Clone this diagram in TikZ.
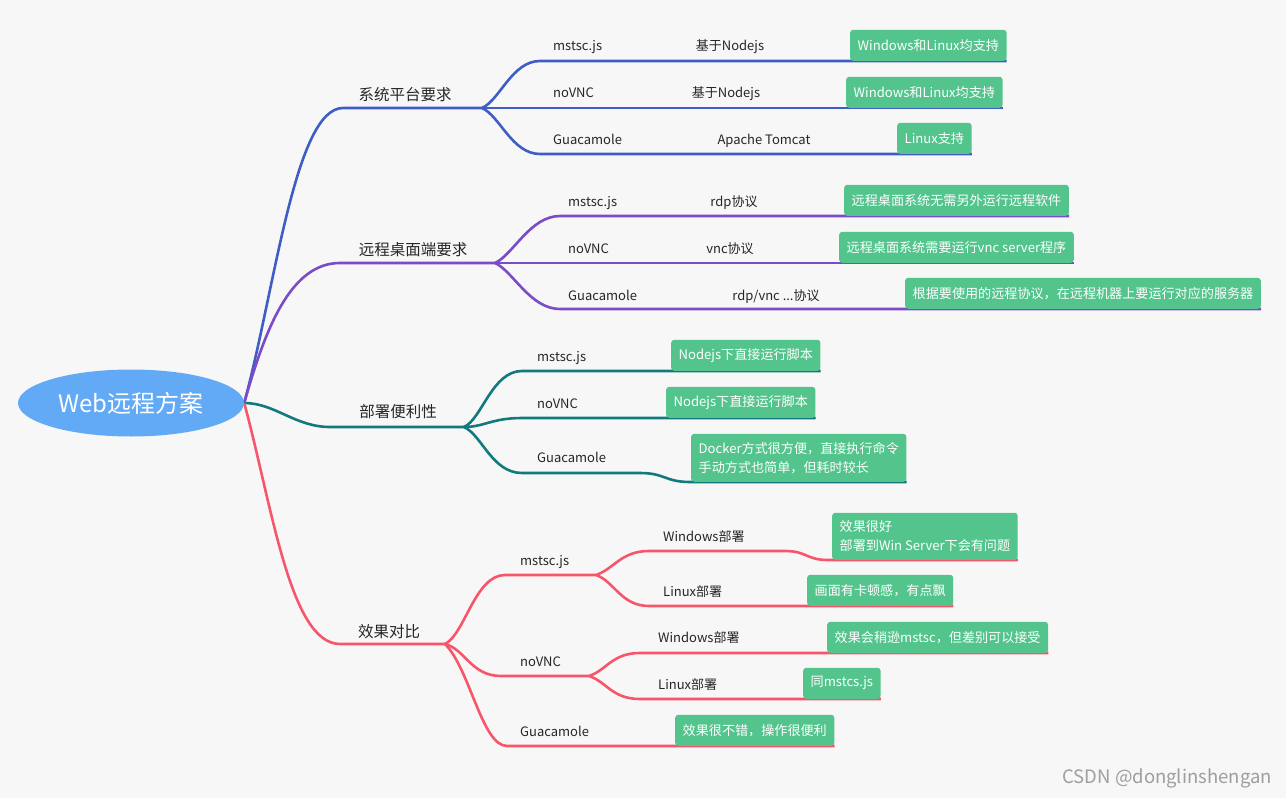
\documentclass[tikz,border=0pt]{standalone}
\usepackage{fontspec}
\setmainfont{Noto Sans CJK SC}
\usetikzlibrary{shapes.geometric}
\definecolor{bggray}{HTML}{F7F7F7}
\definecolor{rootblue}{HTML}{62AAF6}
\definecolor{bblue}{HTML}{3F5EC5}
\definecolor{bpurple}{HTML}{7A4CC7}
\definecolor{bteal}{HTML}{12797C}
\definecolor{bred}{HTML}{F7566A}
\definecolor{boxgreen}{HTML}{52C48C}
\pgfdeclarelayer{bg}
\pgfdeclarelayer{edges}
\pgfsetlayers{bg,edges,main}

\begin{document}
\begin{tikzpicture}[x=1pt,y=-1pt,
    lbl/.style={anchor=west,inner sep=0pt,text=black!85,font=\fontsize{13}{15}\selectfont,text height=9.5pt,text depth=2.5pt},
    midlbl/.style={lbl,anchor=center},
    topic/.style={inner sep=0pt,text=black!85,font=\fontsize{15.5}{18}\selectfont},
    tipbox/.style={anchor=south west,fill=boxgreen,rounded corners=3pt,text=white,font=\fontsize{13.1}{19}\selectfont,inner xsep=7.5pt,inner ysep=4pt,minimum height=31pt,align=left},
    bline/.style={draw=bblue,line width=2.6pt},
    pline/.style={draw=bpurple,line width=2.6pt},
    tline/.style={draw=bteal,line width=2.6pt},
    rline/.style={draw=bred,line width=2.6pt}]

    \begin{pgfonlayer}{bg}
        \fill[bggray] (0,0) rectangle (1286,798);
    \end{pgfonlayer}
    \useasboundingbox (0,0) rectangle (1286,798);

    \node[ellipse,fill=rootblue,minimum width=226pt,minimum height=67pt,inner sep=0pt,text=white,font=\fontsize{24}{28}\selectfont] (root) at (131,403) {Web远程方案};

    \node[topic] (sys) at (405,95) {系统平台要求};
    \node[topic] (rdt) at (413,250) {远程桌面端要求};
    \node[topic] (dep) at (398,412) {部署便利性};
    \node[topic] (eff) at (389,632) {效果对比};

    \coordinate (s1) at (343,108); \coordinate (j1) at (482,108);
    \coordinate (s2) at (340,263); \coordinate (j2) at (495,263);
    \coordinate (s3) at (330,427); \coordinate (j3) at (464,427);
    \coordinate (s4) at (340,644); \coordinate (j4) at (445,644);
    \coordinate (j41) at (596,575); \coordinate (j42) at (589,676);

    \node[lbl] (ms1) at (553,47) {mstsc.js};
    \node[lbl] (vn1) at (553,94) {noVNC};
    \node[lbl] (gu1) at (553,141) {Guacamole};
    \node[midlbl] (ms1n) at (730,47) {基于Nodejs};
    \node[midlbl] (vn1n) at (726,94) {基于Nodejs};
    \node[midlbl] (gu1n) at (764,141) {Apache Tomcat};
    \node[tipbox] (ms1b) at (850,61) {Windows和Linux均支持};
    \node[tipbox] (vn1b) at (846,108) {Windows和Linux均支持};
    \node[tipbox] (gu1b) at (897,154) {Linux支持};

    \node[lbl] (ms2) at (568,203) {mstsc.js};
    \node[lbl] (vn2) at (568,250) {noVNC};
    \node[lbl] (gu2) at (568,297) {Guacamole};
    \node[midlbl] (ms2n) at (734,203) {rdp协议};
    \node[midlbl] (vn2n) at (730,250) {vnc协议};
    \node[midlbl] (gu2n) at (776,297) {rdp/vnc ...协议};
    \node[tipbox] (ms2b) at (844,216) {远程桌面系统无需另外运行远程软件};
    \node[tipbox] (vn2b) at (839,263) {远程桌面系统需要运行vnc server程序};
    \node[tipbox] (gu2b) at (905,309) {根据要使用的远程协议，在远程机器上要运行对应的服务器};

    \node[lbl] (ms3) at (537,358) {mstsc.js};
    \node[lbl] (vn3) at (537,405) {noVNC};
    \node[lbl] (gu3) at (537,459) {Guacamole};
    \node[tipbox] (ms3b) at (671,371) {Nodejs下直接运行脚本};
    \node[tipbox] (vn3b) at (666,418) {Nodejs下直接运行脚本};
    \node[tipbox,minimum height=48pt] (gu3b) at (691,482) {Docker方式很方便，直接执行命令\\手动方式也简单，但耗时较长};

    \node[lbl] (ms4) at (520,562) {mstsc.js};
    \node[lbl] (vn4) at (520,663) {noVNC};
    \node[lbl] (gu4) at (520,733) {Guacamole};
    \node[lbl] (w41) at (663,538) {Windows部署};
    \node[lbl] (l41) at (663,593) {Linux部署};
    \node[lbl] (w42) at (658,639) {Windows部署};
    \node[lbl] (l42) at (658,686) {Linux部署};
    \node[tipbox,minimum height=47pt] (w41b) at (832,560) {效果很好\\部署到Win Server下会有问题};
    \node[tipbox] (l41b) at (807,606) {画面有卡顿感，有点飘};
    \node[tipbox] (w42b) at (827,653) {效果会稍逊mstsc，但差别可以接受};
    \node[tipbox] (l42b) at (803,699) {同mstcs.js};
    \node[tipbox] (gu4b) at (675,746) {效果很不错，操作很便利};

    \node[anchor=east,inner sep=0pt,text=black!38,font=\fontsize{18.5}{22}\selectfont] (mark) at (1272,778) {CSDN @donglinshengan};

    \begin{pgfonlayer}{edges}
        \draw[bline] (root.east) .. controls (275,290) and (295,108) .. (s1) -- (j1);
        \draw[bline] (j1) .. controls +(18,-8) and +(-28,0) .. (540,61) -- (ms1b.south east);
        \draw[bline] (j1) -- (vn1b.south east);
        \draw[bline] (j1) .. controls +(18,8) and +(-28,0) .. (540,154) -- (gu1b.south east);

        \draw[pline] (root.east) .. controls (265,330) and (290,263) .. (s2) -- (j2);
        \draw[pline] (j2) .. controls +(18,-8) and +(-30,0) .. (560,216) -- (ms2b.south east);
        \draw[pline] (j2) -- (vn2b.south east);
        \draw[pline] (j2) .. controls +(18,8) and +(-30,0) .. (560,309) -- (gu2b.south east);

        \draw[tline] (root.east) .. controls (275,403) and (295,427) .. (s3) -- (j3);
        \draw[tline] (j3) .. controls +(18,-8) and +(-30,0) .. (522,371) -- (ms3b.south east);
        \draw[tline] (j3) .. controls +(20,0) and +(-30,0) .. (522,418) -- (vn3b.south east);
        \draw[tline] (j3) .. controls +(18,8) and +(-30,0) .. (522,473) -- (640,473)
            .. controls +(25,0) and +(-25,0) .. (690,482) -- (gu3b.south east);

        \draw[rline] (root.east) .. controls (272,505) and (290,644) .. (s4) -- (j4);
        \draw[rline] (j4) .. controls +(20,-10) and +(-30,0) .. (505,575) -- (j41);
        \draw[rline] (j41) .. controls +(18,-6) and +(-28,0) .. (649,551) -- (785,551)
            .. controls +(22,0) and +(-22,0) .. (828,560) -- (w41b.south east);
        \draw[rline] (j41) .. controls +(18,6) and +(-28,0) .. (649,606) -- (l41b.south east);
        \draw[rline] (j4) .. controls +(20,5) and +(-30,0) .. (501,676) -- (j42);
        \draw[rline] (j42) .. controls +(18,-6) and +(-28,0) .. (640,653) -- (w42b.south east);
        \draw[rline] (j42) .. controls +(18,6) and +(-28,0) .. (640,699) -- (l42b.south east);
        \draw[rline] (j4) .. controls +(25,25) and +(-25,0) .. (507,746) -- (gu4b.south east);
    \end{pgfonlayer}
\end{tikzpicture}
\end{document}
